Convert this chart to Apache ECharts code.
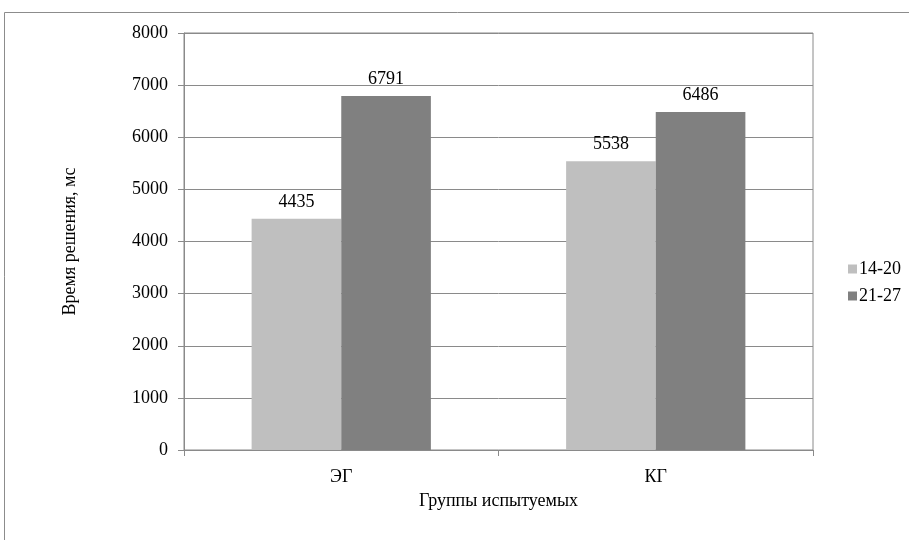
<!DOCTYPE html>
<html>
<head>
<meta charset="utf-8">
<script src="https://cdn.jsdelivr.net/npm/echarts@6/dist/echarts.min.js"></script>
<style>
  html, body { margin: 0; padding: 0; background: #ffffff; }
  #chart { width: 909px; height: 540px; }
</style>
</head>
<body>
<div id="chart"></div>
<script>
// Groups of subjects and solution times (ms) per age band
const categories = ['ЭГ', 'КГ'];
const seriesNames = ['14-20', '21-27'];
const values1420 = [4435, 5538];
const values2127 = [6791, 6486];

const font = '"Liberation Serif", "Times New Roman", serif';
const axisGray = '#8a8a8a';
const fs = 18;

const chart = echarts.init(document.getElementById('chart'), null, { renderer: 'canvas' });

chart.setOption({
  backgroundColor: '#ffffff',
  animation: false,
  textStyle: { fontFamily: font, color: '#000' },
  graphic: [
    {
      type: 'rect',
      shape: { x: 4.5, y: 12.5, width: 1000, height: 600 },
      style: { fill: 'none', stroke: '#8c8c8c', lineWidth: 1 },
      silent: true
    }
  ],
  grid: {
    left: 184, right: 96, top: 33, bottom: 90,
    show: true, borderColor: axisGray, borderWidth: 1, backgroundColor: 'transparent'
  },
  legend: {
    orient: 'vertical',
    left: 843, top: 255,
    itemWidth: 9, itemHeight: 9, itemGap: 9,
    icon: 'rect',
    textStyle: { fontFamily: font, fontSize: fs, color: '#000', padding: [0, 0, 0, -3] },
    data: seriesNames
  },
  xAxis: {
    type: 'category',
    data: categories,
    name: 'Группы испытуемых',
    nameLocation: 'middle',
    nameGap: 42,
    nameTextStyle: { fontFamily: font, fontSize: fs, color: '#000' },
    axisLine: { lineStyle: { color: axisGray } },
    axisTick: { show: true, length: 6, lineStyle: { color: axisGray } },
    axisLabel: { fontFamily: font, fontSize: fs, color: '#000', margin: 18 }
  },
  yAxis: {
    type: 'value',
    min: 0, max: 8000, interval: 1000,
    name: 'Время решения, мс',
    nameLocation: 'middle',
    nameGap: 105,
    nameRotate: 90,
    nameTextStyle: { fontFamily: font, fontSize: fs, color: '#000' },
    axisLine: { show: true, lineStyle: { color: axisGray } },
    axisTick: { show: true, length: 6, lineStyle: { color: axisGray } },
    axisLabel: {
      fontFamily: font, fontSize: fs, color: '#000', margin: 16,
      formatter: (v) => String(v)
    },
    splitLine: { show: true, lineStyle: { color: axisGray, width: 1 } }
  },
  series: [
    {
      name: seriesNames[0],
      type: 'bar',
      data: values1420,
      barGap: '0%',
      barCategoryGap: '43%',
      itemStyle: { color: '#bfbfbf' },
      label: { show: true, position: 'top', distance: 8, fontFamily: font, fontSize: fs, color: '#000' }
    },
    {
      name: seriesNames[1],
      type: 'bar',
      data: values2127,
      barGap: '0%',
      barCategoryGap: '43%',
      itemStyle: { color: '#808080' },
      label: { show: true, position: 'top', distance: 8, fontFamily: font, fontSize: fs, color: '#000' }
    }
  ]
});
</script>
</body>
</html>
